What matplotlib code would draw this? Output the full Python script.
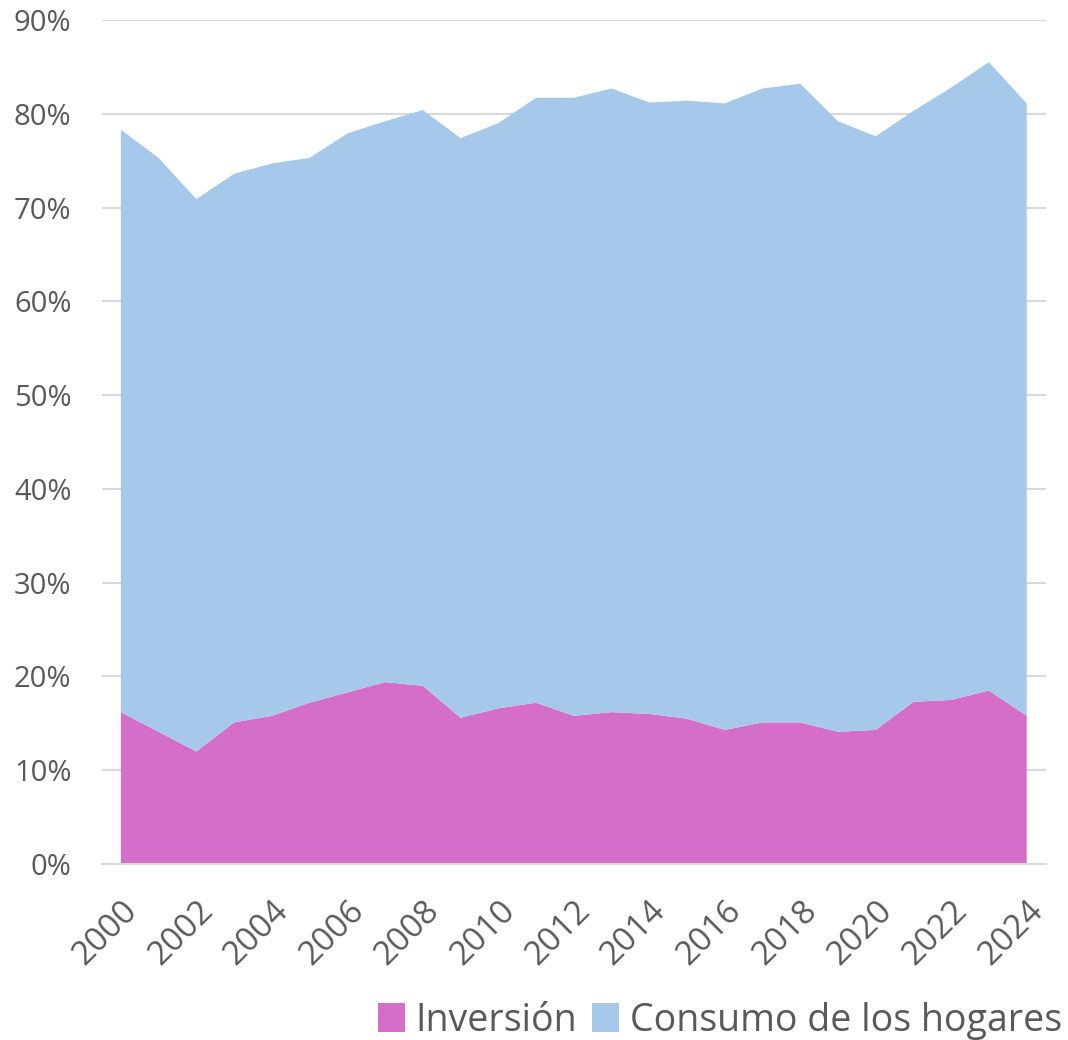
import matplotlib.pyplot as plt
import numpy as np

# datos (participación en el PIB)
anios = list(range(2000, 2025))
inversion = [16.2, 14.1, 12.0, 15.1, 15.8, 17.2, 18.3, 19.4, 19.0, 15.6, 16.6, 17.2, 15.8,
             16.2, 16.0, 15.5, 14.3, 15.1, 15.1, 14.1, 14.3, 17.3, 17.5, 18.5, 15.8]
total = [78.3, 75.3, 70.9, 73.6, 74.7, 75.3, 77.9, 79.2, 80.4, 77.4, 79.0, 81.7, 81.7,
         82.7, 81.2, 81.4, 81.1, 82.7, 83.2, 79.2, 77.6, 80.3, 82.8, 85.5, 81.1]
consumo = [t - i for t, i in zip(total, inversion)]

plt.rcParams['font.family'] = ['Open Sans', 'DejaVu Sans']

fig = plt.figure(figsize=(10.68, 10.40), dpi=100)
ax = fig.add_axes([0.0955, 0.1692, 0.8835, 0.8116])

ax.stackplot(anios, np.array(inversion) / 100, np.array(consumo) / 100,
             colors=['#d56ec8', '#a6c9eb'], labels=['Inversión', 'Consumo de los hogares'],
             linewidth=0, zorder=2)

ax.set_xlim(1999.5, 2024.5)
ax.set_ylim(0, 0.9)
ax.set_yticks(np.arange(0, 0.91, 0.1))
ax.set_yticklabels([f'{int(round(v * 100))}%' for v in np.arange(0, 0.91, 0.1)])
ax.set_xticks(anios[::2])
ax.set_xticklabels([str(a) for a in anios[::2]], rotation=45, ha='right', va='top',
                   rotation_mode='anchor')

ax.grid(axis='y', color='#d9d9d9', linewidth=1.5, zorder=0)
ax.set_axisbelow(True)
for s in ['top', 'right', 'left']:
    ax.spines[s].set_visible(False)
ax.spines['bottom'].set_color('#d9d9d9')
ax.spines['bottom'].set_linewidth(1.5)
ax.tick_params(axis='both', length=0, labelcolor='#595959')
ax.tick_params(axis='y', pad=22, labelsize=21)
ax.tick_params(axis='x', pad=22, labelsize=24)

fig.legend(loc='lower right', bbox_to_anchor=(1.026, -0.032), ncol=2, frameon=False,
           fontsize=27, labelcolor='#595959', handlelength=0.7, handleheight=0.8,
           handletextpad=0.3, columnspacing=0.4)

fig.savefig('out.png', dpi=100)
